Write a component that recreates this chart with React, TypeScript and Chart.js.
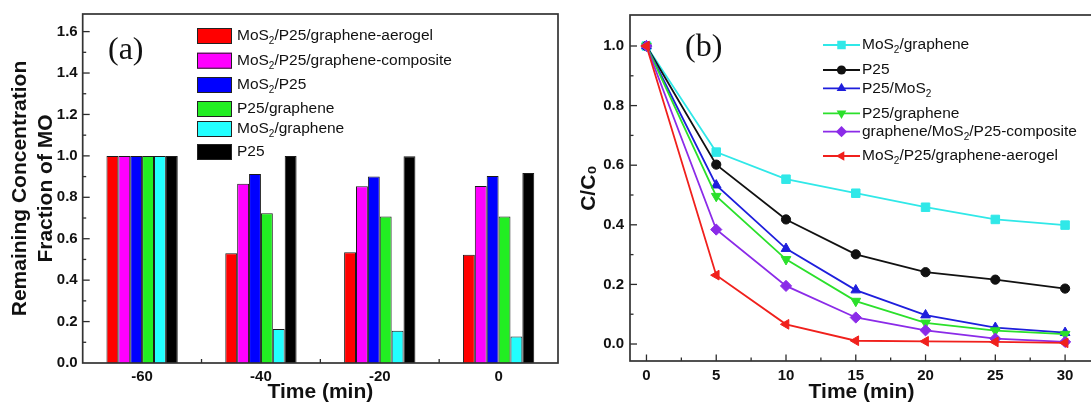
import React, { useEffect, useRef } from 'react';
import { Chart, registerables } from 'chart.js';

Chart.register(...registerables);

// ---------- Panel (a) data ----------
const timesA = ['-60', '-40', '-20', '0'];
const barLabels = [
  'MoS₂/P25/graphene-aerogel',
  'MoS₂/P25/graphene-composite',
  'MoS₂/P25',
  'P25/graphene',
  'MoS₂/graphene',
  'P25',
];
const aerogelA = [1.0, 0.53, 0.535, 0.523];
const compositeA = [1.0, 0.866, 0.853, 0.855];
const mosP25A = [1.0, 0.913, 0.9, 0.903];
const p25GrapheneA = [1.0, 0.723, 0.707, 0.707];
const mosGrapheneA = [1.0, 0.164, 0.156, 0.128];
const p25A = [1.0, 1.0, 0.998, 0.917];
const barColors = ['#FF0000', '#FF00FF', '#0000FF', '#22EE22', '#22FFFF', '#000000'];
const yTicksA = [0.0, 0.1, 0.2, 0.3, 0.4, 0.5, 0.6, 0.7, 0.8, 0.9, 1.0, 1.1, 1.2, 1.3, 1.4, 1.5, 1.6];

// ---------- Panel (b) data ----------
const timesB = [0, 5, 10, 15, 20, 25, 30];
const lineLabels = [
  'MoS₂/graphene',
  'P25',
  'P25/MoS₂',
  'P25/graphene',
  'graphene/MoS₂/P25-composite',
  'MoS₂/P25/graphene-aerogel',
];
const mosGrapheneB = [1.0, 0.644, 0.553, 0.506, 0.459, 0.418, 0.399];
const p25B = [1.0, 0.602, 0.418, 0.301, 0.241, 0.216, 0.186];
const p25MosB = [1.0, 0.533, 0.32, 0.181, 0.097, 0.055, 0.038];
const p25GrapheneB = [1.0, 0.496, 0.284, 0.144, 0.071, 0.045, 0.033];
const compositeB = [1.0, 0.384, 0.195, 0.089, 0.046, 0.018, 0.007];
const aerogelB = [1.0, 0.231, 0.066, 0.011, 0.009, 0.007, 0.004];
const xTicksB = [0, 2.5, 5, 7.5, 10, 12.5, 15, 17.5, 20, 22.5, 25, 27.5, 30];
const yTicksB = [0.0, 0.1, 0.2, 0.3, 0.4, 0.5, 0.6, 0.7, 0.8, 0.9, 1.0];
const lineColors = ['#30E8E8', '#111111', '#1E1EDC', '#2BE02B', '#8B2BE8', '#F0201C'];
const lineMarkers = ['rect', 'circle', 'triangle', 'triangle', 'rectRot', 'triangle'];
const markerRotation = [0, 0, 0, 180, 0, -90];
const markerRadius = [6, 4.6, 5.6, 5.6, 5.6, 5.6];

const FONT = "'Liberation Sans', Arial, Helvetica, sans-serif";
const SERIF = "'Liberation Serif', 'Times New Roman', serif";

const LEGEND_A_ROWS = [36, 60.7, 85, 109, 129, 152];
const LEGEND_B_ROWS = [45, 70, 88.3, 113.3, 131.7, 156];
const LEGEND_FONT = 15.5;

const SUB: Record<string, string> = { '₀': '0', '₂': '2' };

function drawRich(ctx: CanvasRenderingContext2D, text: string, x: number, y: number, size: number, weight: string, family: string, color: string) {
  ctx.save();
  ctx.fillStyle = color;
  ctx.textBaseline = 'middle';
  ctx.textAlign = 'left';
  const runs: { t: string; sub: boolean }[] = [];
  for (const ch of text) {
    const isSub = !!SUB[ch];
    const c = isSub ? SUB[ch] : ch;
    const last = runs[runs.length - 1];
    if (last && last.sub === isSub) last.t += c;
    else runs.push({ t: c, sub: isSub });
  }
  let cx = x;
  for (const r of runs) {
    if (r.sub) {
      ctx.font = `${weight} ${Math.round(size * 0.62)}px ${family}`;
      ctx.fillText(r.t, cx, y + size * 0.36);
    } else {
      ctx.font = `${weight} ${size}px ${family}`;
      ctx.fillText(r.t, cx, y);
    }
    cx += ctx.measureText(r.t).width;
  }
  ctx.restore();
}

function drawMarker(ctx: CanvasRenderingContext2D, style: string, rotation: number, x: number, y: number, r: number) {
  ctx.beginPath();
  let rad = (rotation * Math.PI) / 180;
  if (style === 'circle') {
    ctx.arc(x, y, r, 0, Math.PI * 2);
  } else if (style === 'rect') {
    const s = Math.SQRT1_2 * r;
    ctx.rect(x - s, y - s, 2 * s, 2 * s);
  } else if (style === 'rectRot') {
    ctx.moveTo(x - r, y);
    ctx.lineTo(x, y - r);
    ctx.lineTo(x + r, y);
    ctx.lineTo(x, y + r);
    ctx.closePath();
  } else {
    const t = (2 * Math.PI) / 3;
    ctx.moveTo(x + Math.sin(rad) * r, y - Math.cos(rad) * r);
    rad += t;
    ctx.lineTo(x + Math.sin(rad) * r, y - Math.cos(rad) * r);
    rad += t;
    ctx.lineTo(x + Math.sin(rad) * r, y - Math.cos(rad) * r);
    ctx.closePath();
  }
  ctx.fill();
}

const frameTicks = {
  id: 'frameTicks',
  afterDatasetsDraw(chart: any) {
    const { ctx, chartArea: ar, scales } = chart;
    ctx.save();
    ctx.strokeStyle = '#2b2b2b';
    ctx.lineWidth = 1.3;
    const ys = scales.y;
    ys.ticks.forEach((t: any) => {
      const p = ys.getPixelForValue(t.value);
      if (p < ar.top + 2 || p > ar.bottom - 2) return;
      const major = Math.abs(Math.round(t.value * 10)) % 2 === 0;
      const len = major ? 7 : 3.5;
      ctx.beginPath();
      ctx.moveTo(ar.left, p);
      ctx.lineTo(ar.left + len, p);
      ctx.stroke();
    });
    const xs = scales.x;
    if (xs.type === 'category') {
      for (let i = 0; i < xs.ticks.length - 1; i++) {
        const p = (xs.getPixelForTick(i) + xs.getPixelForTick(i + 1)) / 2;
        ctx.beginPath();
        ctx.moveTo(p, ar.bottom);
        ctx.lineTo(p, ar.bottom - 4);
        ctx.stroke();
      }
    } else {
      xs.ticks.forEach((t: any) => {
        const p = xs.getPixelForValue(t.value);
        if (p < ar.left + 2 || p > ar.right - 2) return;
        const major = Math.abs(Math.round(t.value / 2.5)) % 2 === 0;
        const len = major ? 6.5 : 3.5;
        ctx.beginPath();
        ctx.moveTo(p, ar.bottom);
        ctx.lineTo(p, ar.bottom - len);
        ctx.stroke();
      });
    }
    ctx.lineWidth = 1.7;
    ctx.strokeStyle = '#333';
    ctx.strokeRect(ar.left, ar.top, ar.right - ar.left, ar.bottom - ar.top);
    ctx.restore();
  },
};

const legendA = {
  id: 'legendA',
  afterDraw(chart: any) {
    const ctx: CanvasRenderingContext2D = chart.ctx;
    chart.data.datasets.forEach((ds: any, i: number) => {
      const yc = LEGEND_A_ROWS[i];
      ctx.save();
      ctx.fillStyle = ds.backgroundColor;
      ctx.fillRect(197, yc - 8, 35, 16);
      ctx.strokeStyle = '#222';
      ctx.lineWidth = 1;
      ctx.strokeRect(197.5, yc - 7.5, 34, 15);
      ctx.restore();
      drawRich(ctx, ds.label, 237, yc, LEGEND_FONT, 'normal', FONT, '#111');
    });
    ctx.save();
    ctx.font = `32px ${SERIF}`;
    ctx.fillStyle = '#111';
    ctx.textBaseline = 'middle';
    ctx.fillText('(a)', 108, 51);
    ctx.restore();
  },
};

const legendB = {
  id: 'legendB',
  afterDraw(chart: any) {
    const ctx: CanvasRenderingContext2D = chart.ctx;
    lineLabels.forEach((label, i) => {
      const yc = LEGEND_B_ROWS[i];
      ctx.save();
      ctx.strokeStyle = lineColors[i];
      ctx.fillStyle = lineColors[i];
      ctx.lineWidth = 1.8;
      ctx.beginPath();
      ctx.moveTo(261, yc);
      ctx.lineTo(298, yc);
      ctx.stroke();
      drawMarker(ctx, lineMarkers[i], markerRotation[i], 279.5, yc, markerRadius[i]);
      ctx.restore();
      drawRich(ctx, label, 300, yc, LEGEND_FONT, 'normal', FONT, '#111');
    });
    ctx.save();
    ctx.font = `32px ${SERIF}`;
    ctx.fillStyle = '#111';
    ctx.textBaseline = 'middle';
    ctx.fillText('(b)', 123, 48);
    ctx.restore();
  },
};

const tickFont = { family: FONT, size: 15, weight: 'bold' as const };
const titleFont = { family: FONT, size: 21, weight: 'bold' as const };
const labelEvenTenth = (v: any) => (Math.abs(Math.round(Number(v) * 10)) % 2 === 0 ? Number(v).toFixed(1) : '');

export default function App() {
  const refA = useRef<HTMLCanvasElement>(null);
  const refB = useRef<HTMLCanvasElement>(null);

  useEffect(() => {
    const seriesA = [aerogelA, compositeA, mosP25A, p25GrapheneA, mosGrapheneA, p25A];
    const chartA = new Chart(refA.current!, {
      type: 'bar',
      data: {
        labels: timesA,
        datasets: seriesA.map((vals, i) => ({
          label: barLabels[i],
          data: vals,
          backgroundColor: barColors[i],
          borderColor: '#1a1a1a',
          borderWidth: 1,
          categoryPercentage: 0.6,
          barPercentage: 1.0,
        })),
      },
      options: {
        responsive: false,
        animation: false,
        devicePixelRatio: 1,
        layout: { padding: { left: 0, top: 14, right: 4, bottom: 0 } },
        plugins: { legend: { display: false }, tooltip: { enabled: false } },
        scales: {
          x: {
            type: 'category',
            offset: true,
            grid: { display: false, drawTicks: false },
            border: { display: false },
            ticks: { font: tickFont, color: '#111', padding: 5, maxRotation: 0 },
            title: { display: true, text: 'Time (min)', font: titleFont, color: '#111', padding: { top: 0, bottom: 0 } },
            afterFit: (s: any) => { s.height = 42; },
          },
          y: {
            type: 'linear',
            min: 0,
            max: 1.685,
            bounds: 'data',
            grid: { display: false, drawTicks: false },
            border: { display: false },
            afterBuildTicks: (s: any) => { s.ticks = yTicksA.map((v) => ({ value: v })); },
            ticks: { autoSkip: false, font: tickFont, color: '#111', padding: 5, callback: labelEvenTenth },
            title: {
              display: true,
              text: ['Remaining Concentration', 'Fraction of MO'],
              font: { ...titleFont, lineHeight: 1.25 },
              color: '#111',
              padding: { top: 7, bottom: 0 },
            },
            afterFit: (s: any) => { s.width = 82.7; },
          },
        },
      } as any,
      plugins: [frameTicks, legendA],
    });

    const seriesB = [mosGrapheneB, p25B, p25MosB, p25GrapheneB, compositeB, aerogelB];
    const chartB = new Chart(refB.current!, {
      type: 'line',
      data: {
        datasets: seriesB.map((vals, i) => ({
          label: lineLabels[i],
          data: timesB.map((t, k) => ({ x: t, y: vals[k] })),
          borderColor: lineColors[i],
          backgroundColor: lineColors[i],
          pointBackgroundColor: lineColors[i],
          pointBorderColor: lineColors[i],
          pointBorderWidth: 1,
          pointStyle: lineMarkers[i],
          pointRotation: markerRotation[i],
          pointRadius: markerRadius[i],
          borderWidth: 1.8,
          tension: 0,
          fill: false,
          order: 5 - i,
        })),
      },
      options: {
        responsive: false,
        animation: false,
        devicePixelRatio: 1,
        layout: { padding: { left: 0, top: 14, right: 4.7, bottom: 0 } },
        plugins: { legend: { display: false }, tooltip: { enabled: false } },
        scales: {
          x: {
            type: 'linear',
            min: -1.18,
            max: 32,
            bounds: 'data',
            grid: { display: false, drawTicks: false },
            border: { display: false },
            afterBuildTicks: (s: any) => { s.ticks = xTicksB.map((v) => ({ value: v })); },
            ticks: {
              autoSkip: false,
              maxRotation: 0,
              font: tickFont,
              color: '#111',
              padding: 6,
              callback: (v: any) => (Math.abs(Number(v) % 5) < 1e-9 ? String(Number(v)) : ''),
            },
            title: { display: true, text: 'Time (min)', font: titleFont, color: '#111', padding: { top: 0, bottom: 0 } },
            afterFit: (s: any) => { s.height = 44; },
          },
          y: {
            type: 'linear',
            min: -0.057,
            max: 1.104,
            bounds: 'data',
            grid: { display: false, drawTicks: false },
            border: { display: false },
            afterBuildTicks: (s: any) => { s.ticks = yTicksB.map((v) => ({ value: v })); },
            ticks: { autoSkip: false, font: tickFont, color: '#111', padding: 6, callback: labelEvenTenth },
            title: {
              display: true,
              text: 'C/C₀',
              font: titleFont,
              color: '#111',
              padding: { top: 15, bottom: 0 },
            },
            afterFit: (s: any) => { s.width = 68; },
          },
        },
      } as any,
      plugins: [frameTicks, legendB],
    });

    return () => {
      chartA.destroy();
      chartB.destroy();
    };
  }, []);

  return (
    <div style={{ position: 'absolute', left: 0, top: 0, width: 1091, height: 405, overflow: 'hidden', background: '#fff' }}>
      <canvas ref={refA} width={562} height={405} style={{ position: 'absolute', left: 0, top: 0 }} />
      <canvas ref={refB} width={538} height={405} style={{ position: 'absolute', left: 562, top: 0 }} />
    </div>
  );
}
